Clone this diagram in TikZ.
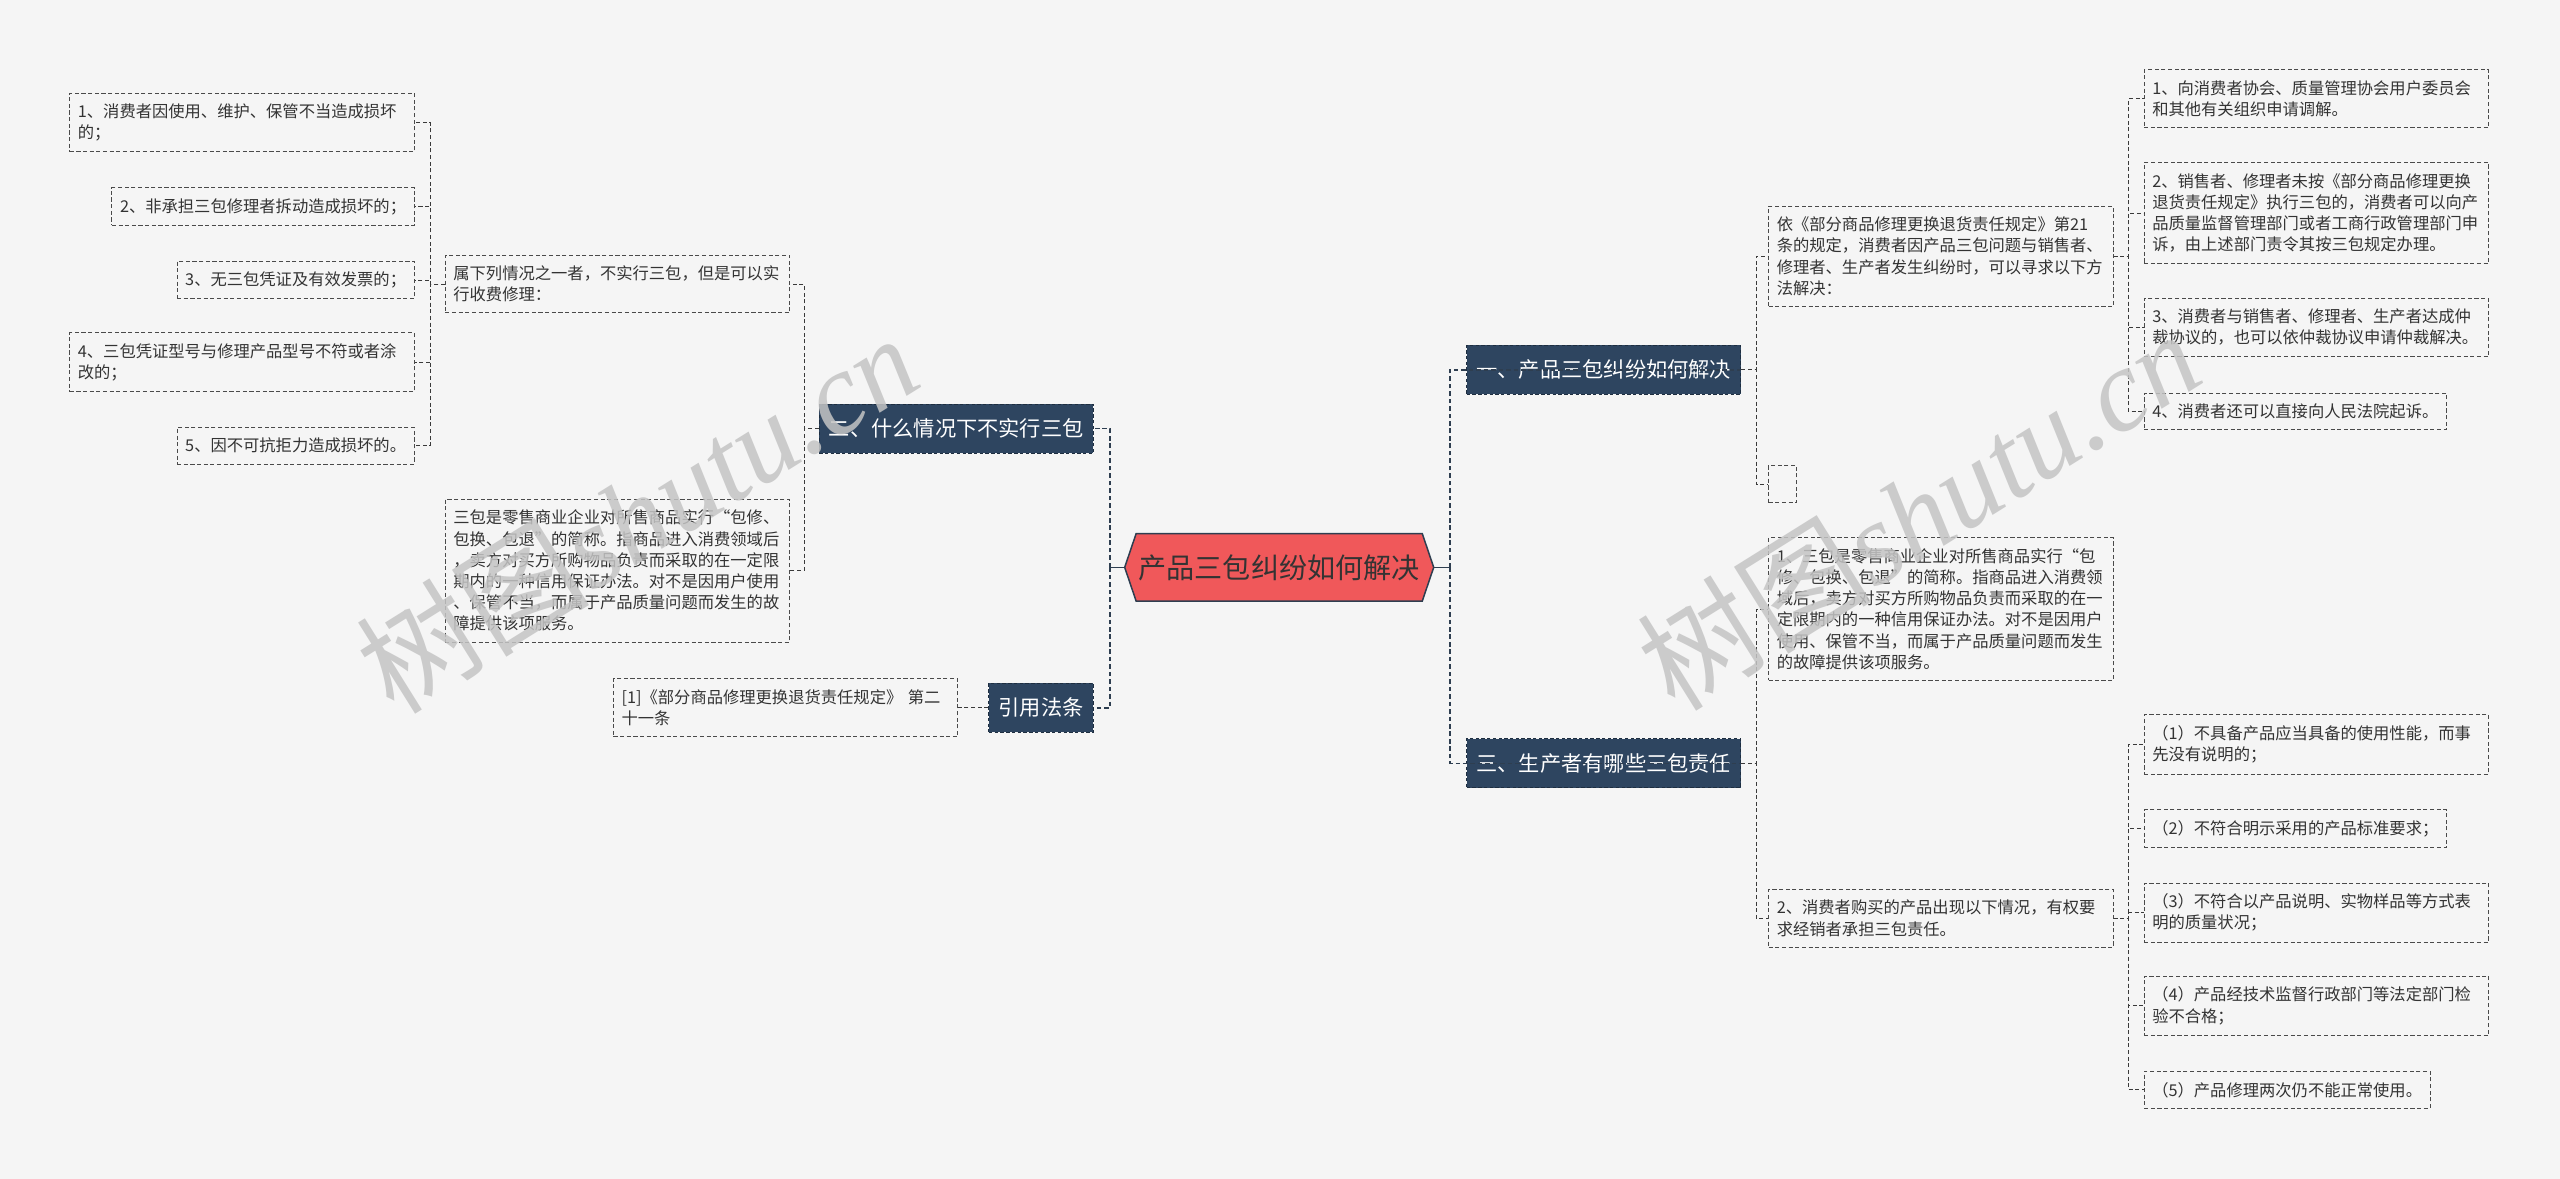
\documentclass[tikz,border=0pt]{standalone}
\usepackage{fontspec}
\newfontfamily\cjk{Noto Sans CJK SC}
\newfontfamily\wmfont{Liberation Serif}
\usetikzlibrary{backgrounds}
\definecolor{bgc}{HTML}{F5F5F5}
\definecolor{branchc}{HTML}{2E4560}
\definecolor{branchline}{HTML}{1E2E40}
\definecolor{hubc}{HTML}{F0585A}
\definecolor{hubline}{HTML}{2E3E50}
\definecolor{leafline}{HTML}{4A4A4A}
\definecolor{leaftext}{HTML}{333333}
\definecolor{linkc}{HTML}{3A3A3A}
\definecolor{wmc}{HTML}{C4C4C4}

\tikzset{
  leaf/.style={draw=leafline, line width=0.8pt, dash pattern=on 3.6pt off 2.2pt,
    fill=bgc, text=leaftext, font=\cjk\fontsize{14.2}{18.5}\selectfont,
    align=left, inner xsep=7.1pt, inner ysep=9.3pt},
  wide/.style={text width=286pt},
  branch/.style={fill=branchc, draw=branchline, line width=0.8pt,
    dash pattern=on 3pt off 2pt, text=white,
    font=\cjk\fontsize{18.5}{22}\selectfont, inner xsep=0.3cm,
    minimum height=1.5cm},
  hub/.style={font=\cjk\fontsize{24.5}{28}\selectfont, text=leaftext,
    minimum width=9.45cm, minimum height=2.05cm},
  stub/.style={draw=hubline, line width=1.3pt},
  trunk/.style={draw=hubline, line width=1.3pt, dash pattern=on 4pt off 2.5pt},
  link/.style={draw=linkc, line width=0.7pt, dash pattern=on 3.5pt off 2.3pt},
  wm/.style={text=wmc, text opacity=0.85, font=\cjk\fontsize{102}{106}\selectfont}
}

\begin{document}
\begin{tikzpicture}[x=0.05cm,y=-0.05cm]
  \useasboundingbox (0,0) rectangle (1568,722);

  % centre
  \node[hub] (hub) at (783.5,347.5) {产品三包纠纷如何解决};
  \begin{scope}[on background layer]
    \fill[bgc] (0,0) rectangle (1568,722);
    \filldraw[fill=hubc, draw=hubline, line width=1.3pt]
      (hub.west) -- ([xshift=0.35cm]hub.north west) -- ([xshift=-0.35cm]hub.north east)
      -- (hub.east) -- ([xshift=-0.35cm]hub.south east) -- ([xshift=0.35cm]hub.south west) -- cycle;
  \end{scope}

  % main branches
  \node[branch, anchor=east] (b2) at (670,262.5) {二、什么情况下不实行三包};
  \node[branch, anchor=east] (bref) at (670,433.5) {引用法条};
  \node[branch, anchor=west] (b1) at (898,226.5) {一、产品三包纠纷如何解决};
  \node[branch, anchor=west] (b3) at (898,467.5) {三、生产者有哪些三包责任};

  % left side
  \node[leaf, wide, anchor=east] (shu) at (484,174) {属下列情况之一者，不实行三包，但是可以实\\行收费修理：};
  \node[leaf, wide, anchor=east] (sanbao) at (484,349.5) {三包是零售商业企业对所售商品实行“包修、\\包换、包退”的简称。指商品进入消费领域后\\，卖方对买方所购物品负责而采取的在一定限\\期内的一种信用保证办法。对不是因用户使用\\、保管不当，而属于产品质量问题而发生的故\\障提供该项服务。};
  \node[leaf, wide, anchor=east] (l1) at (254,75) {1、消费者因使用、维护、保管不当造成损坏\\的；};
  \node[leaf, anchor=east] (l2) at (254,126.5) {2、非承担三包修理者拆动造成损坏的；};
  \node[leaf, anchor=east] (l3) at (254,171.5) {3、无三包凭证及有效发票的；};
  \node[leaf, wide, anchor=east] (l4) at (254,222) {4、三包凭证型号与修理产品型号不符或者涂\\改的；};
  \node[leaf, anchor=east] (l5) at (254,273) {5、因不可抗拒力造成损坏的。};
  \node[leaf, wide, anchor=east] (cite) at (587,433.5) {[1]《部分商品修理更换退货责任规定》 第二\\十一条};

  % right side
  \node[leaf, wide, anchor=west] (yi) at (1083,157) {依《部分商品修理更换退货责任规定》第21\\条的规定，消费者因产品三包问题与销售者、\\修理者、生产者发生纠纷时，可以寻求以下方\\法解决：};
  \node[leaf, anchor=west, minimum width=0.85cm, minimum height=1.15cm] (blank) at (1083,296.5) {};
  \node[leaf, wide, anchor=west] (r1) at (1313,60.5) {1、向消费者协会、质量管理协会用户委员会\\和其他有关组织申请调解。};
  \node[leaf, wide, anchor=west] (r2) at (1313,130.5) {2、销售者、修理者未按《部分商品修理更换\\退货责任规定》执行三包的，消费者可以向产\\品质量监督管理部门或者工商行政管理部门申\\诉，由上述部门责令其按三包规定办理。};
  \node[leaf, wide, anchor=west] (r3) at (1313,200.5) {3、消费者与销售者、修理者、生产者达成仲\\裁协议的，也可以依仲裁协议申请仲裁解决。};
  \node[leaf, anchor=west] (r4) at (1313,252) {4、消费者还可以直接向人民法院起诉。};
  \node[leaf, wide, anchor=west] (san1) at (1083,373) {1、三包是零售商业企业对所售商品实行“包\\修、包换、包退”的简称。指商品进入消费领\\域后，卖方对买方所购物品负责而采取的在一\\定限期内的一种信用保证办法。对不是因用户\\使用、保管不当，而属于产品质量问题而发生\\的故障提供该项服务。};
  \node[leaf, wide, anchor=west] (san2) at (1083,562.5) {2、消费者购买的产品出现以下情况，有权要\\求经销者承担三包责任。};
  \node[leaf, wide, anchor=west] (c1) at (1313,456) {（1）不具备产品应当具备的使用性能，而事\\先没有说明的；};
  \node[leaf, anchor=west] (c2) at (1313,507.5) {（2）不符合明示采用的产品标准要求；};
  \node[leaf, wide, anchor=west] (c3) at (1313,559) {（3）不符合以产品说明、实物样品等方式表\\明的质量状况；};
  \node[leaf, wide, anchor=west] (c4) at (1313,616) {（4）产品经技术监督行政部门等法定部门检\\验不合格；};
  \node[leaf, anchor=west] (c5) at (1313,667.5) {（5）产品修理两次仍不能正常使用。};

  % connectors from the centre
  \draw[stub] (hub.west) -- ++(-9,0) coordinate (hubl);
  \draw[stub] (hub.east) -- ++(10,0) coordinate (hubr);
  \draw[trunk] (hubl) |- (b2.east);
  \draw[trunk] (hubl) |- (bref.east);
  \draw[trunk] (hubr) |- (b1.east);
  \draw[trunk] (hubr) |- (b3.east);

  % left connectors
  \draw[link] (b2.west) -- ++(-9,0) |- (shu.east);
  \draw[link] (b2.west) -- ++(-9,0) |- (sanbao.east);
  \draw[link] (shu.west) -- ++(-9,0) |- (l1.east);
  \draw[link] (shu.west) -- ++(-9,0) |- (l2.east);
  \draw[link] (shu.west) -- ++(-9,0) |- (l3.east);
  \draw[link] (shu.west) -- ++(-9,0) |- (l4.east);
  \draw[link] (shu.west) -- ++(-9,0) |- (l5.east);
  \draw[link] (bref.west) -- (cite.east);

  % right connectors
  \draw[link] (b1.east) -- ++(9,0) |- (yi.west);
  \draw[link] (b1.east) -- ++(9,0) |- (blank.west);
  \draw[link] (yi.east) -- ++(9,0) |- (r1.west);
  \draw[link] (yi.east) -- ++(9,0) |- (r2.west);
  \draw[link] (yi.east) -- ++(9,0) |- (r3.west);
  \draw[link] (yi.east) -- ++(9,0) |- (r4.west);
  \draw[link] (b3.east) -- ++(9,0) |- (san1.west);
  \draw[link] (b3.east) -- ++(9,0) |- (san2.west);
  \draw[link] (san2.east) -- ++(9,0) |- (c1.west);
  \draw[link] (san2.east) -- ++(9,0) |- (c2.west);
  \draw[link] (san2.east) -- ++(9,0) |- (c3.west);
  \draw[link] (san2.east) -- ++(9,0) |- (c4.west);
  \draw[link] (san2.east) -- ++(9,0) |- (c5.west);

  % watermarks
  \node[wm, rotate=32] (wm1) at (390,314) {树图{\wmfont\itshape shutu.cn}};
  \node[wm, rotate=32] (wm2) at (1175,312) {树图{\wmfont\itshape shutu.cn}};
\end{tikzpicture}
\end{document}
